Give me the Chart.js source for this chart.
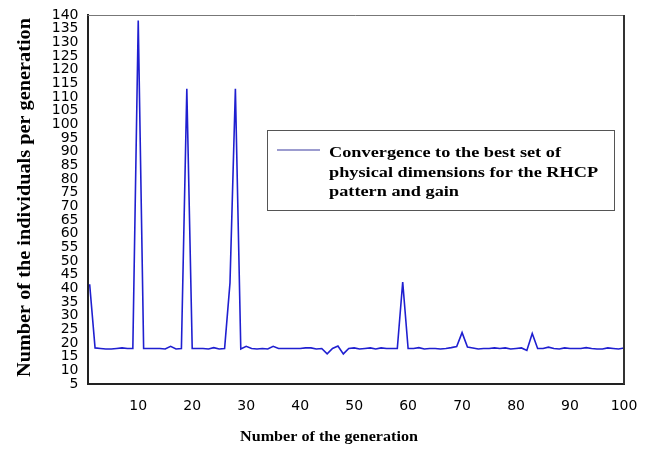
<!DOCTYPE html>
<html>
<head>
<meta charset="utf-8">
<script src="https://cdn.jsdelivr.net/npm/chart.js@4"></script>
<style>
html,body{margin:0;padding:0;background:#fff;}
#wrap{width:650px;height:449px;position:relative;}
</style>
</head>
<body>
<div id="wrap"><canvas id="c"></canvas></div>
<script>
// Individuals per generation
const individuals = [
  41.5, 18.2, 18, 17.8, 17.8, 18, 18.2, 18, 18, 138,
  18, 18, 18, 18, 17.8, 18.8, 17.8, 18, 113, 18,
  18, 18, 17.8, 18.3, 17.8, 18, 42, 113, 17.8, 18.8,
  18, 17.8, 18, 17.8, 18.8, 18, 18, 18, 18, 18,
  18.2, 18.2, 17.8, 18, 16, 18, 18.9, 16, 18, 18.2,
  17.8, 18, 18.2, 17.8, 18.2, 18, 18, 18, 42.3, 18,
  18, 18.3, 17.8, 18, 18, 17.8, 18, 18.3, 18.7, 23.8,
  18.5, 18.2, 17.8, 18, 18, 18.2, 18, 18.2, 17.8, 18,
  18.2, 17.3, 23.5, 18, 18, 18.5, 18, 17.8, 18.2, 18,
  18, 18, 18.3, 18, 17.8, 17.8, 18.2, 18, 17.8, 18.2
];
const generations = individuals.map((_, i) => i + 1);
const xTickValues = [10, 20, 30, 40, 50, 60, 70, 80, 90, 100];
const yTickMin = 5, yTickMax = 140, yTickStep = 5;
const xTitle = "Number of the generation";
const yTitle = "Number of the individuals per generation";
const legendLines = ["Convergence to the best set of", "physical dimensions for the RHCP", "pattern and gain"];

const lineColor = '#1f1fd0';

function fitText(ctx, text, cx, cy, rot, targetLen, fontPx, perpScale) {
  ctx.save();
  ctx.font = 'bold ' + fontPx + 'px "Liberation Serif", "Times New Roman", serif';
  const w = ctx.measureText(text).width;
  ctx.translate(cx, cy);
  ctx.rotate(rot);
  ctx.scale(targetLen / w, perpScale);
  ctx.textAlign = 'center';
  ctx.textBaseline = 'middle';
  ctx.fillStyle = '#000';
  ctx.fillText(text, 0, 0);
  ctx.restore();
}

const decor = {
  id: 'decor',
  afterDraw(chart) {
    const ctx = chart.ctx;
    const a = chart.chartArea;
    // frame: top and right
    ctx.save();
    ctx.strokeStyle = '#777';
    ctx.lineWidth = 1;
    ctx.beginPath();
    ctx.moveTo(a.left, a.top + 0.5);
    ctx.lineTo(a.right, a.top + 0.5);
    ctx.stroke();
    ctx.strokeStyle = '#333';
    ctx.lineWidth = 2;
    ctx.beginPath();
    ctx.moveTo(a.right, a.top);
    ctx.lineTo(a.right, a.bottom);
    ctx.stroke();
    ctx.restore();

    // axis titles
    fitText(ctx, xTitle, 329, 437, 0, 178, 15, 1);
    fitText(ctx, yTitle, 25, 197.5, -Math.PI / 2, 359, 15, 1.3);

    // legend box
    ctx.save();
    ctx.fillStyle = '#fff';
    ctx.fillRect(267, 130, 347, 80);
    ctx.strokeStyle = '#555';
    ctx.lineWidth = 1;
    ctx.strokeRect(267.5, 130.5, 347, 80);
    ctx.strokeStyle = '#3a3aa0';
    ctx.lineWidth = 1.2;
    ctx.beginPath();
    ctx.moveTo(277, 150);
    ctx.lineTo(320, 150);
    ctx.stroke();
    ctx.font = 'bold 15px "Liberation Serif", "Times New Roman", serif';
    const w0 = ctx.measureText(legendLines[0]).width;
    const sx = 232 / w0;
    ctx.fillStyle = '#000';
    ctx.textAlign = 'left';
    ctx.textBaseline = 'alphabetic';
    const baselines = [157, 177, 196];
    legendLines.forEach((t, i) => {
      ctx.save();
      ctx.translate(329, baselines[i]);
      ctx.scale(sx, 1);
      ctx.fillText(t, 0, 0);
      ctx.restore();
    });
    ctx.restore();
  }
};

new Chart(document.getElementById('c'), {
  type: 'line',
  data: {
    datasets: [{
      label: legendLines.join(' '),
      data: generations.map((g, i) => ({ x: g, y: individuals[i] })),
      borderColor: lineColor,
      borderWidth: 1.6,
      pointRadius: 0,
      tension: 0,
      fill: false
    }]
  },
  options: {
    responsive: true,
    maintainAspectRatio: false,
    animation: false,
    layout: { padding: { left: 0, right: 26, top: 15, bottom: 0 } },
    plugins: { legend: { display: false }, tooltip: { enabled: false } },
    scales: {
      x: {
        type: 'linear',
        min: 0.6,
        max: 100,
        afterBuildTicks(scale) { scale.ticks = xTickValues.map(v => ({ value: v })); },
        afterFit(scale) { scale.height = 65; },
        grid: { display: false, drawOnChartArea: false, drawTicks: true, tickLength: 5, tickColor: '#333' },
        border: { display: true, color: '#222', width: 2 },
        ticks: {
          color: '#000',
          font: { family: '"DejaVu Sans", Arial, sans-serif', size: 14 },
          padding: 9,
          maxRotation: 0,
          autoSkip: false
        }
      },
      y: {
        min: yTickMin,
        max: yTickMax,
        afterFit(scale) { scale.width = 87.5; },
        grid: { display: false, drawOnChartArea: false, drawTicks: true, tickLength: 5, tickColor: '#333' },
        border: { display: true, color: '#222', width: 2 },
        ticks: {
          stepSize: yTickStep,
          color: '#000',
          font: { family: '"DejaVu Sans", Arial, sans-serif', size: 14 },
          padding: 4,
          autoSkip: false
        }
      }
    }
  },
  plugins: [decor]
});
</script>
</body>
</html>
